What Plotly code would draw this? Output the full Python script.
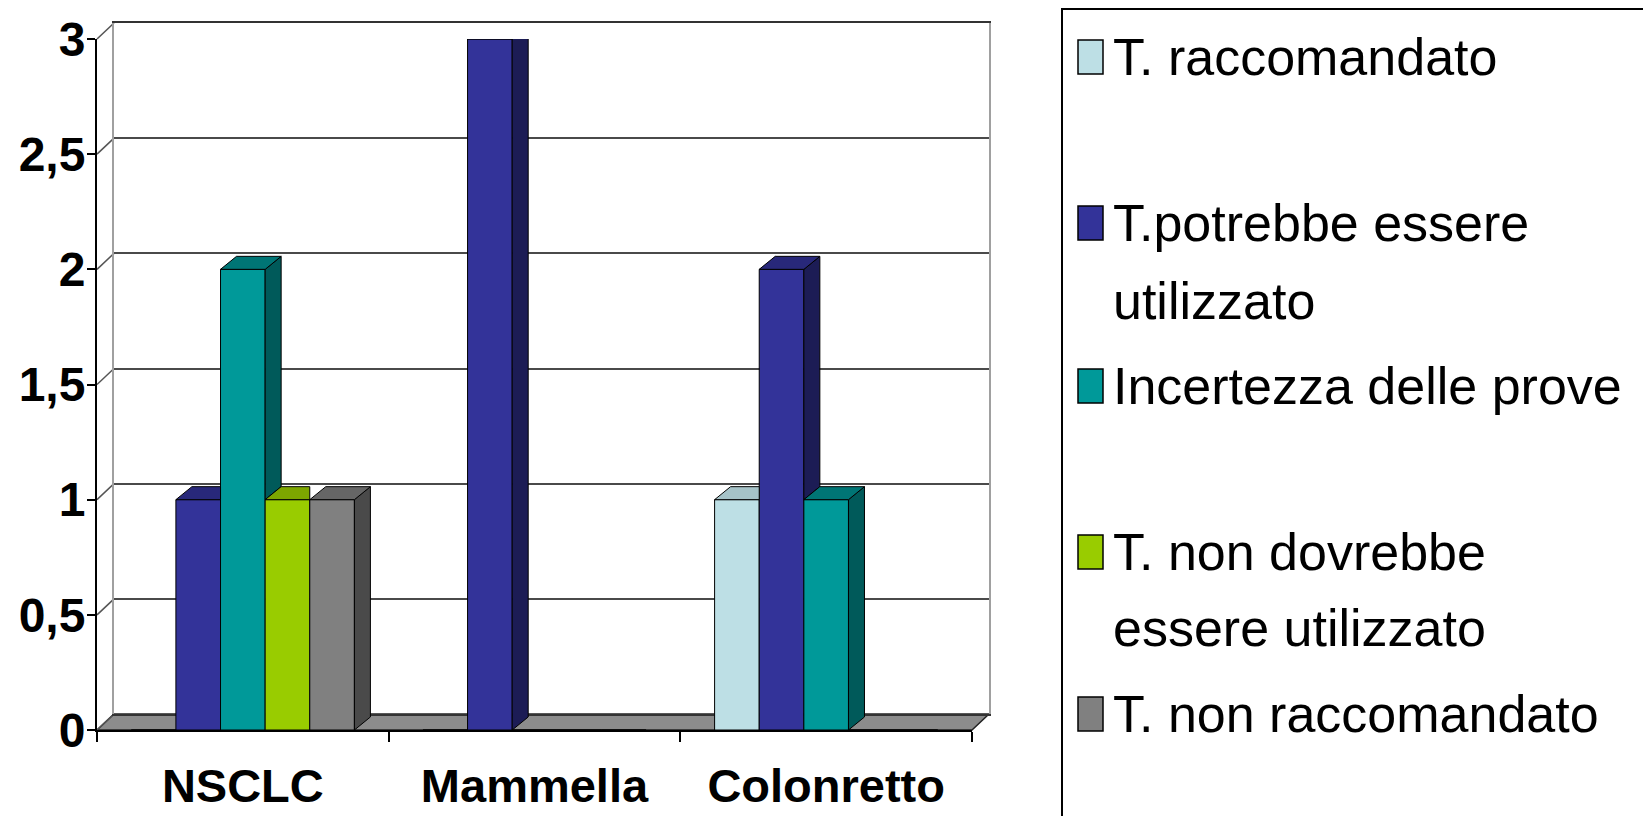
import plotly.graph_objects as go

# ---- data -------------------------------------------------------------
categories = ["NSCLC", "Mammella", "Colonretto"]

series_names = [
    "T. raccomandato",
    "T.potrebbe essere utilizzato",
    "Incertezza delle prove",
    "T. non dovrebbe essere utilizzato",
    "T. non raccomandato",
]
legend_lines = [
    ["T. raccomandato"],
    ["T.potrebbe essere", "utilizzato"],
    ["Incertezza delle prove"],
    ["T. non dovrebbe", "essere utilizzato"],
    ["T. non raccomandato"],
]

raccomandato = [0, 0, 1]
potrebbe_utilizzato = [1, 3, 2]
incertezza_prove = [2, 0, 1]
non_dovrebbe = [1, 0, 0]
non_raccomandato = [1, 0, 0]
series_values = [raccomandato, potrebbe_utilizzato, incertezza_prove,
                 non_dovrebbe, non_raccomandato]

y_tick_vals = [0, 0.5, 1, 1.5, 2, 2.5, 3]
y_tick_text = ["0", "0,5", "1", "1,5", "2", "2,5", "3"]

# ---- styling ------------------------------------------------------------
front_colors = ["#bddfe5", "#333399", "#009999", "#99cc00", "#808080"]
side_colors = ["#8aaab0", "#1c1c55", "#005a5a", "#5f7f00", "#4a4a4a"]
top_colors = ["#a6c3c8", "#28287a", "#007575", "#7da600", "#666666"]

FONT = "Liberation Sans, Arial, sans-serif"

W, H = 1643, 816
X_LEFT, X_RIGHT = 97, 972        # front x axis extent (px)
Y_ZERO, Y_TOP = 730, 39           # front y axis: value 0 and value 3 (px)
WALL_DX, WALL_DY = 17, 16         # depth of the back wall (px)
BAR_DX, BAR_DY = 16, 13           # depth of each column (px)
BARGAP = 0.235

Y_MAX = 3.0
plot_l, plot_r = X_LEFT, X_RIGHT + WALL_DX
plot_t, plot_b = Y_TOP - WALL_DY, Y_ZERO
PW, PH = plot_r - plot_l, plot_b - plot_t


def px_x(x):
    return (x - plot_l) / PW


def px_y(y):
    return (plot_b - y) / PH


front_w = X_RIGHT - X_LEFT
front_h = Y_ZERO - Y_TOP
unit_x = front_w / 3.0            # px per category
unit_y = front_h / Y_MAX          # px per value unit
ddx = BAR_DX / unit_x
ddy = BAR_DY / unit_y

fig = go.Figure()

# back wall (subplot xy, drawn first): only its gridlines and edges show
fig.add_trace(go.Scatter(x=[0], y=[0], mode="markers", marker=dict(opacity=0),
                         hoverinfo="skip", showlegend=False, xaxis="x", yaxis="y"))

# front columns
n_series = len(series_values)
group_w = 1 - BARGAP
slot_w = group_w / n_series
for i, (name, vals) in enumerate(zip(series_names, series_values)):
    fig.add_trace(go.Bar(
        x=list(range(len(categories))), y=vals, name=name,
        marker=dict(color=front_colors[i], line=dict(color="#000000", width=1)),
        xaxis="x2", yaxis="y2", showlegend=False,
    ))

# side and top faces of the columns
for i, vals in enumerate(series_values):
    sx, sy, tx, ty = [], [], [], []
    for c, v in enumerate(vals):
        if v <= 0:
            continue
        nxt = series_values[i + 1][c] if i + 1 < n_series else 0
        x0 = c - group_w / 2 + i * slot_w
        x1 = x0 + slot_w
        if v > nxt:
            sx += [x1, x1 + ddx, x1 + ddx, x1, x1, None]
            sy += [nxt, nxt + ddy, v + ddy, v, nxt, None]
            tx += [x0, x1, x1 + ddx, x0 + ddx, x0, None]
            ty += [v, v, v + ddy, v + ddy, v, None]
        else:
            tx += [x0, x1, x1, x0 + ddx, x0, None]
            ty += [v, v, v + ddy, v + ddy, v, None]
    for xs, ys, col in ((sx, sy, side_colors[i]), (tx, ty, top_colors[i])):
        if xs:
            fig.add_trace(go.Scatter(
                x=xs, y=ys, mode="lines", fill="toself", fillcolor=col,
                line=dict(color="#000000", width=1), hoverinfo="skip",
                showlegend=False, xaxis="x2", yaxis="y2",
            ))

shapes = []
# floor
fx = [X_LEFT, X_RIGHT, X_RIGHT + WALL_DX, X_LEFT + WALL_DX]
fy = [Y_ZERO, Y_ZERO, Y_ZERO - WALL_DY, Y_ZERO - WALL_DY]
path = "M " + " L ".join(f"{px_x(a):.5f},{px_y(b):.5f}" for a, b in zip(fx, fy)) + " Z"
shapes.append(dict(type="path", xref="paper", yref="paper", path=path,
                   fillcolor="#8c8c8c", line=dict(color="#222222", width=1.5),
                   layer="below"))
# left wall diagonals joining the axis ticks to the back gridlines
for v in y_tick_vals:
    yf = Y_ZERO - v * unit_y
    shapes.append(dict(type="line", xref="paper", yref="paper",
                       x0=px_x(X_LEFT), y0=px_y(yf),
                       x1=px_x(X_LEFT + WALL_DX), y1=px_y(yf - WALL_DY),
                       line=dict(color="#555555", width=1.5), layer="below"))

# legend box
LEG_L, LEG_T = 1062, 9
shapes.append(dict(type="rect", xref="paper", yref="paper",
                   x0=px_x(LEG_L), y0=px_y(H + 20), x1=px_x(W + 20), y1=px_y(LEG_T),
                   line=dict(color="#000000", width=2), fillcolor="rgba(0,0,0,0)"))

annotations = []
leg_rows = [[57], [223, 301], [386], [552, 628], [714]]
SQ_X, SQ_W, SQ_H = 1078, 25, 34
TXT_X = 1111
for i, (lines, rows) in enumerate(zip(legend_lines, leg_rows)):
    cy = rows[0]
    shapes.append(dict(type="rect", xref="paper", yref="paper",
                       x0=px_x(SQ_X), x1=px_x(SQ_X + SQ_W),
                       y0=px_y(cy + SQ_H / 2), y1=px_y(cy - SQ_H / 2),
                       fillcolor=front_colors[i], line=dict(color="#000000", width=1.5)))
    for line_text, ry in zip(lines, rows):
        annotations.append(dict(
            xref="paper", yref="paper", x=px_x(TXT_X), y=px_y(ry),
            xanchor="left", yanchor="middle", showarrow=False, text=line_text,
            font=dict(family=FONT, size=52, color="#000000"),
        ))

fig.update_layout(
    width=W, height=H, autosize=False,
    margin=dict(l=plot_l, r=W - plot_r, t=plot_t, b=H - plot_b, pad=0, autoexpand=False),
    paper_bgcolor="#ffffff", plot_bgcolor="rgba(0,0,0,0)",
    barmode="group", bargap=BARGAP, bargroupgap=0,
    showlegend=False, shapes=shapes, annotations=annotations,
    font=dict(family=FONT, color="#000000"),
    # back wall axes
    xaxis=dict(domain=[WALL_DX / PW, 1], range=[0, 1], showticklabels=False, ticks="",
               showgrid=False, zeroline=False, showline=True, mirror=True,
               linecolor="#333333", linewidth=2, automargin=False, fixedrange=True),
    yaxis=dict(domain=[WALL_DY / PH, 1], range=[0, Y_MAX], tickvals=y_tick_vals,
               showticklabels=False, ticks="", showgrid=True, gridcolor="#4a4a4a",
               gridwidth=2, zeroline=False,
               showline=True, linecolor="#a0a0a0", linewidth=2, mirror=True,
               automargin=False, fixedrange=True),
    # front axes
    xaxis2=dict(domain=[0, front_w / PW], range=[-0.5, 2.5], anchor="y2",
                tickvals=[0, 1, 2], ticktext=categories, ticks="", tickangle=0,
                ticklabelstandoff=14,
                tickfont=dict(family=FONT, size=47, color="#000000", weight="bold"),
                showline=True, linecolor="#000000", linewidth=2,
                showgrid=False, zeroline=False,
                minor=dict(tickmode="array", tickvals=[-0.5, 0.5, 1.5, 2.5],
                           ticks="outside", ticklen=10, tickcolor="#000000", tickwidth=2,
                           showgrid=False),
                automargin=False, fixedrange=True),
    yaxis2=dict(domain=[0, front_h / PH], range=[0, Y_MAX], anchor="x2",
                tickvals=y_tick_vals, ticktext=y_tick_text,
                ticks="outside", ticklen=8, tickwidth=2, tickcolor="#000000",
                ticklabelstandoff=-8,
                tickfont=dict(family=FONT, size=48, color="#000000", weight="bold"),
                showline=True, linecolor="#000000", linewidth=2,
                showgrid=False, zeroline=False, automargin=False, fixedrange=True),
)

fig.write_html("out.html")
